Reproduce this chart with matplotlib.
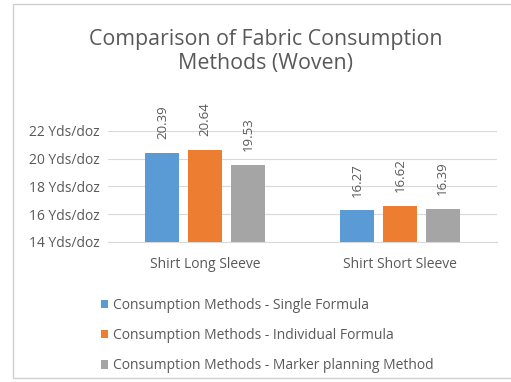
import numpy as np
import matplotlib
matplotlib.use("Agg")
import matplotlib.pyplot as plt
from matplotlib.patches import Rectangle

# data
categories = ["Shirt Long Sleeve", "Shirt Short Sleeve"]
series_names = ["Consumption Methods - Single Formula",
                "Consumption Methods - Individual Formula",
                "Consumption Methods - Marker planning Method"]
single = [20.39, 16.27]
individual = [20.64, 16.62]
marker = [19.53, 16.39]
yticks = [14, 16, 18, 20, 22]

colors = ["#5B9BD5", "#ED7D31", "#A5A5A5"]
text_col = "#595959"

plt.rcParams['font.family'] = ['Open Sans', 'DejaVu Sans']

fig = plt.figure(figsize=(5.11, 3.82), dpi=100)
ax = fig.add_axes([0.211, 0.3665, 0.762, 0.291])

# outer chart frame
fig.patches.append(Rectangle((13 / 511, 4 / 382), 1.0, 374 / 382, transform=fig.transFigure,
                             fill=False, edgecolor="#D0D0D0", linewidth=1.0))

x = np.arange(len(categories))
width = 0.175
step = 0.22
for i, (vals, col, name) in enumerate(zip([single, individual, marker], colors, series_names)):
    pos = x + (i - 1) * step
    ax.bar(pos, np.array(vals) - 14, bottom=14, width=width, color=col, label=name, zorder=3)
    for p, v in zip(pos, vals):
        ax.text(p, v + 1.0, f"{v:.2f}", rotation=90, ha="center", va="bottom",
                fontsize=9.5, color=text_col)

ax.set_xlim(-0.5, 1.5)
ax.set_ylim(14, 22)
ax.set_yticks(yticks)
ax.set_yticklabels([f"{t} Yds/doz" for t in yticks], fontsize=10, color=text_col)
ax.set_xticks(x)
ax.set_xticklabels(categories, fontsize=10, color=text_col)
ax.tick_params(length=0, pad=6)
ax.tick_params(axis="x", pad=11)
ax.grid(axis="y", color="#D9D9D9", linewidth=0.8, zorder=0)
for s in ax.spines.values():
    s.set_visible(False)
ax.spines["bottom"].set_visible(True)
ax.spines["bottom"].set_color("#D9D9D9")

fig.text(0.52, 0.866, "Comparison of Fabric Consumption\nMethods (Woven)", ha="center", va="center",
         fontsize=15.4, color=text_col, linespacing=1.2)

fig.legend(loc="upper left", bbox_to_anchor=(0.186, 0.235), frameon=False, fontsize=10,
           labelcolor=text_col, handlelength=0.55, handleheight=0.55, handletextpad=0.35,
           labelspacing=1.1, borderaxespad=0)

fig.savefig("out.png", dpi=100, facecolor="white")
